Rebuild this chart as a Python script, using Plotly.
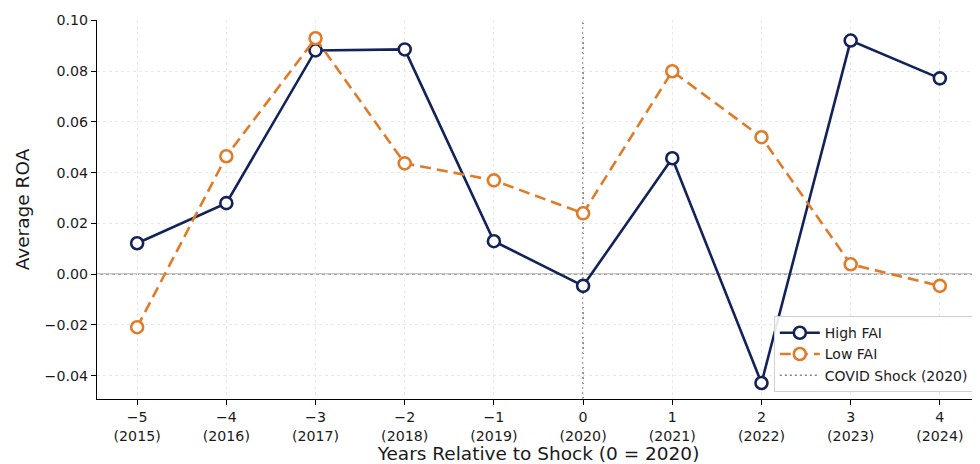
import plotly.graph_objects as go

rel_years = [-5, -4, -3, -2, -1, 0, 1, 2, 3, 4]
cal_years = [2015, 2016, 2017, 2018, 2019, 2020, 2021, 2022, 2023, 2024]
high_fai = [0.0122, 0.028, 0.0882, 0.0886, 0.013, -0.0046, 0.0457, -0.0429, 0.0921, 0.0772]
low_fai = [-0.0209, 0.0465, 0.093, 0.0437, 0.037, 0.024, 0.080, 0.054, 0.0039, -0.0046]
y_ticks = [-0.04, -0.02, 0.00, 0.02, 0.04, 0.06, 0.08, 0.10]
shock_x = 0

navy = "#13235a"
orange = "#e07b27"
font = "DejaVu Sans"

tick_text = [f"{'−' if r < 0 else ''}{abs(r)}<br>({c})" for r, c in zip(rel_years, cal_years)]
y_text = [f"{'−' if v < 0 else ''}{abs(v):.2f}" for v in y_ticks]

fig = go.Figure()
fig.add_trace(go.Scatter(
    x=rel_years, y=high_fai, name="High FAI", mode="lines+markers",
    line=dict(color=navy, width=2.6),
    marker=dict(symbol="circle", size=12, color="white", line=dict(color=navy, width=2.6)),
))
fig.add_trace(go.Scatter(
    x=rel_years, y=low_fai, name="Low FAI", mode="lines+markers",
    line=dict(color=orange, width=2.6, dash="11px,6px"),
    marker=dict(symbol="circle", size=12, color="white", line=dict(color=orange, width=2.6)),
))
fig.add_hline(y=0, line=dict(color="#8c8c8c", width=1.3), layer="below")
fig.add_shape(type="line", x0=shock_x, x1=shock_x, xref="x", y0=0, y1=1, yref="paper",
              line=dict(color="#808080", width=1.6, dash="2px,3px"),
              showlegend=True, name="COVID Shock (2020)", layer="below")

# page body has an 8px margin, so the figure is drawn 8px smaller and shifted
fig.update_layout(
    width=972, height=456,
    margin=dict(l=89, r=0, t=12, b=65),
    plot_bgcolor="white", paper_bgcolor="white",
    font=dict(family=font, size=14.2, color="#1a1a1a"),
    showlegend=True,
    legend=dict(x=0.993, xanchor="right", y=0.018, yanchor="bottom",
                bgcolor="rgba(255,255,255,0.9)", bordercolor="#d0d0d0", borderwidth=1,
                font=dict(size=14, family=font), tracegroupgap=0, itemwidth=40),
    xaxis=dict(range=[-5.45, 4.45], tickmode="array", tickvals=rel_years, ticktext=tick_text,
               showline=True, linecolor="black", linewidth=1.2, ticks="outside", ticklen=5,
               tickcolor="black", showgrid=True, gridcolor="#e8e8e8", griddash="dot", gridwidth=1,
               zeroline=False, mirror=False, automargin=False,
               title=dict(text="Years Relative to Shock (0 = 2020)", font=dict(size=18.5), standoff=0)),
    yaxis=dict(range=[-0.0492, 0.1002], tickmode="array", tickvals=y_ticks, ticktext=y_text,
               showline=True, linecolor="black", linewidth=1.2, ticks="outside", ticklen=5,
               tickcolor="black", showgrid=True, gridcolor="#e8e8e8", griddash="dot", gridwidth=1,
               zeroline=False, automargin=False,
               title=dict(text="Average ROA", font=dict(size=18.5), standoff=10)),
)

fig.write_html("out.html")
